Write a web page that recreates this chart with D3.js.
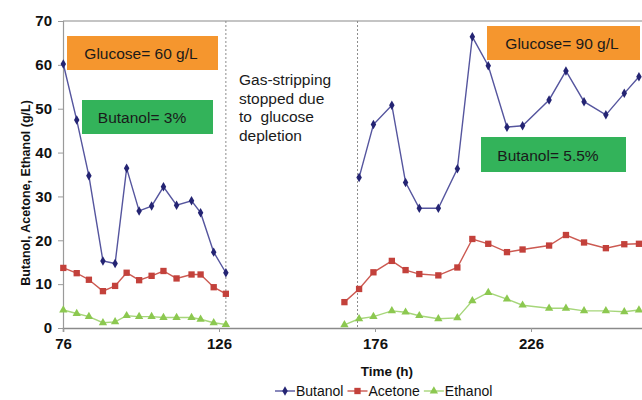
<!DOCTYPE html>
<html>
<head>
<meta charset="utf-8">
<script src="https://cdn.jsdelivr.net/npm/d3@7/dist/d3.min.js"></script>
<style>
  html, body { margin: 0; padding: 0; background: #fff; }
  svg { display: block; font-family: "Liberation Sans", Arial, sans-serif; }
</style>
</head>
<body>
<svg id="chart" width="642" height="400"></svg>
<script>
// ---- data ----
const timesRun1 = [76.1, 80.4, 84.3, 88.8, 92.7, 96.4, 100.4, 104.4, 108.2, 112.4, 117.2, 120.1, 124.3, 128.2];
const timesRun2 = [166.2, 170.9, 175.5, 181.4, 185.8, 190.2, 196.3, 202.4, 207.2, 212.3, 218.3, 223.3, 231.8, 237.2, 243.0, 250.0, 255.9, 260.6];

const butanolRun1 = [60.2, 47.4, 34.7, 15.3, 14.7, 36.4, 26.7, 27.8, 32.2, 28.0, 29.0, 26.3, 17.3, 12.6];
const butanolRun2 = [null, 34.3, 46.4, 50.8, 33.2, 27.3, 27.3, 36.3, 66.4, 59.8, 45.8, 46.1, 52.0, 58.6, 51.6, 48.6, 53.5, 57.3];

const acetoneRun1 = [13.7, 12.5, 11.0, 8.4, 9.6, 12.6, 10.9, 11.9, 13.0, 11.3, 12.2, 12.2, 9.3, 7.8];
const acetoneRun2 = [5.9, 8.9, 12.7, 15.3, 13.2, 12.3, 12.0, 13.8, 20.3, 19.2, 17.3, 17.9, 18.8, 21.2, 19.5, 18.2, 19.1, 19.2];

const ethanolRun1 = [4.1, 3.3, 2.6, 1.2, 1.4, 2.8, 2.6, 2.6, 2.4, 2.4, 2.4, 2.0, 1.2, 0.8];
const ethanolRun2 = [0.7, 2.1, 2.6, 3.9, 3.6, 2.8, 2.1, 2.3, 6.2, 8.1, 6.6, 5.2, 4.5, 4.5, 3.9, 3.9, 3.7, 4.1];

const seriesNames = ["Butanol", "Acetone", "Ethanol"];
const xTickValues = [76, 126, 176, 226];
const yTickValues = [0, 10, 20, 30, 40, 50, 60, 70];
const eventTimes = [128.2, 170.4];

const xTitle = "Time (h)";
const yTitle = "Butanol, Acetone, Ethanol (g/L)";
const stripNote = ["Gas-stripping", "stopped due", "to  glucose", "depletion"];
const boxLabels = ["Glucose= 60 g/L", "Butanol= 3%", "Glucose= 90 g/L", "Butanol= 5.5%"];

// ---- layout ----
const svg = d3.select("#chart");
const x = d3.scaleLinear().domain([76, 276]).range([63, 687]);
const y = d3.scaleLinear().domain([0, 70]).range([328, 21]);

const styles = {
  Butanol: { line: "#55559e", mark: "#242473", symbol: d3.symbolDiamond, size: 26 },
  Acetone: { line: "#cc5a52", mark: "#c3413b", symbol: d3.symbolSquare, size: 40 },
  Ethanol: { line: "#a6d67a", mark: "#8cc850", symbol: d3.symbolTriangle, size: 30 }
};

// frame: top border
svg.append("line")
  .attr("x1", x(76)).attr("x2", x(276))
  .attr("y1", y(70)).attr("y2", y(70))
  .attr("stroke", "#8a8a8a").attr("stroke-width", 1.2);

// event dashed lines
svg.selectAll(".evt").data(eventTimes).enter().append("line")
  .attr("x1", d => x(d)).attr("x2", d => x(d))
  .attr("y1", y(70)).attr("y2", y(0))
  .attr("stroke", "#8c8c8c").attr("stroke-width", 1)
  .attr("stroke-dasharray", "2,2");

// y axis
const yAxis = svg.append("g").attr("transform", `translate(${x(76)},0)`)
  .call(d3.axisLeft(y).tickValues(yTickValues).tickSize(5).tickPadding(6));
yAxis.select(".domain").attr("stroke", "#9a9a9a").attr("stroke-width", 1.2);
yAxis.selectAll(".tick line").attr("stroke", "#9a9a9a");
yAxis.selectAll("text").attr("font-size", 15).attr("font-weight", "bold")
  .attr("fill", "#111").attr("font-family", "Liberation Sans, Arial, sans-serif");

// x axis
const xAxis = svg.append("g").attr("transform", `translate(0,${y(0)})`)
  .call(d3.axisBottom(x).tickValues(xTickValues).tickSize(4).tickPadding(6));
xAxis.select(".domain").attr("stroke", "#8a8a8a").attr("stroke-width", 1.6);
xAxis.selectAll(".tick line").attr("stroke", "#9a9a9a");
xAxis.selectAll("text").attr("font-size", 15).attr("font-weight", "bold")
  .attr("fill", "#111").attr("font-family", "Liberation Sans, Arial, sans-serif");

// titles
svg.append("text").attr("x", 387).attr("y", 376)
  .attr("text-anchor", "middle").attr("font-size", 13.5).attr("font-weight", "bold")
  .attr("fill", "#111").text(xTitle);
svg.append("text").attr("transform", "translate(30,193) rotate(-90)")
  .attr("text-anchor", "middle").attr("font-size", 12.5).attr("font-weight", "bold")
  .attr("fill", "#111").text(yTitle);

// annotation boxes
const boxes = [
  { x0: 67, x1: 218, y0: 36, y1: 70, fill: "#f5962e", tx: 141, ty: 59, label: boxLabels[0] },
  { x0: 82, x1: 213, y0: 100, y1: 134, fill: "#33b35a", tx: 142, ty: 123, label: boxLabels[1] },
  { x0: 487, x1: 640, y0: 26, y1: 60, fill: "#f5962e", tx: 562, ty: 49, label: boxLabels[2] },
  { x0: 481, x1: 626, y0: 137, y1: 172, fill: "#33b35a", tx: 548, ty: 161, label: boxLabels[3] }
];
boxes.forEach(b => {
  svg.append("rect").attr("x", b.x0).attr("y", b.y0)
    .attr("width", b.x1 - b.x0).attr("height", b.y1 - b.y0).attr("fill", b.fill);
  svg.append("text").attr("x", b.tx).attr("y", b.ty).attr("text-anchor", "middle")
    .attr("font-size", 15.5).attr("fill", "#1a1a1a").text(b.label);
});

// gas-stripping note
svg.append("g").selectAll("text").data(stripNote).enter().append("text")
  .attr("x", 239).attr("y", (d, i) => 85 + i * 18.5)
  .attr("font-size", 15.5).attr("fill", "#1a1a1a")
  .attr("xml:space", "preserve").style("white-space", "pre")
  .text(d => d);

// series
const series = [
  { name: "Butanol", runs: [[timesRun1, butanolRun1], [timesRun2, butanolRun2]] },
  { name: "Acetone", runs: [[timesRun1, acetoneRun1], [timesRun2, acetoneRun2]] },
  { name: "Ethanol", runs: [[timesRun1, ethanolRun1], [timesRun2, ethanolRun2]] }
];
const line = d3.line().defined(d => d[1] != null).x(d => x(d[0])).y(d => y(d[1]));

series.slice().reverse().forEach(s => {
  const st = styles[s.name];
  s.runs.forEach(([ts, vs]) => {
    const pts = ts.map((t, i) => [t, vs[i]]);
    svg.append("path").datum(pts).attr("d", line)
      .attr("fill", "none").attr("stroke", st.line).attr("stroke-width", 1.4);
    svg.append("g").selectAll("path").data(pts.filter(p => p[1] != null)).enter()
      .append("path")
      .attr("d", d3.symbol().type(st.symbol).size(st.size))
      .attr("transform", p => `translate(${x(p[0])},${y(p[1])})`)
      .attr("fill", st.mark);
  });
});

// legend
let lx = 275;
const ly = 391;
seriesNames.forEach(name => {
  const st = styles[name];
  const g = svg.append("g");
  g.append("line").attr("x1", lx).attr("x2", lx + 20).attr("y1", ly).attr("y2", ly)
    .attr("stroke", st.line).attr("stroke-width", 1.4);
  g.append("path").attr("d", d3.symbol().type(st.symbol).size(st.size))
    .attr("transform", `translate(${lx + 10},${ly})`).attr("fill", st.mark);
  const t = g.append("text").attr("x", lx + 21).attr("y", ly + 5)
    .attr("font-size", 14).attr("fill", "#111").text(name);
  lx += 21 + t.node().getComputedTextLength() + 4;
});
</script>
</body>
</html>
